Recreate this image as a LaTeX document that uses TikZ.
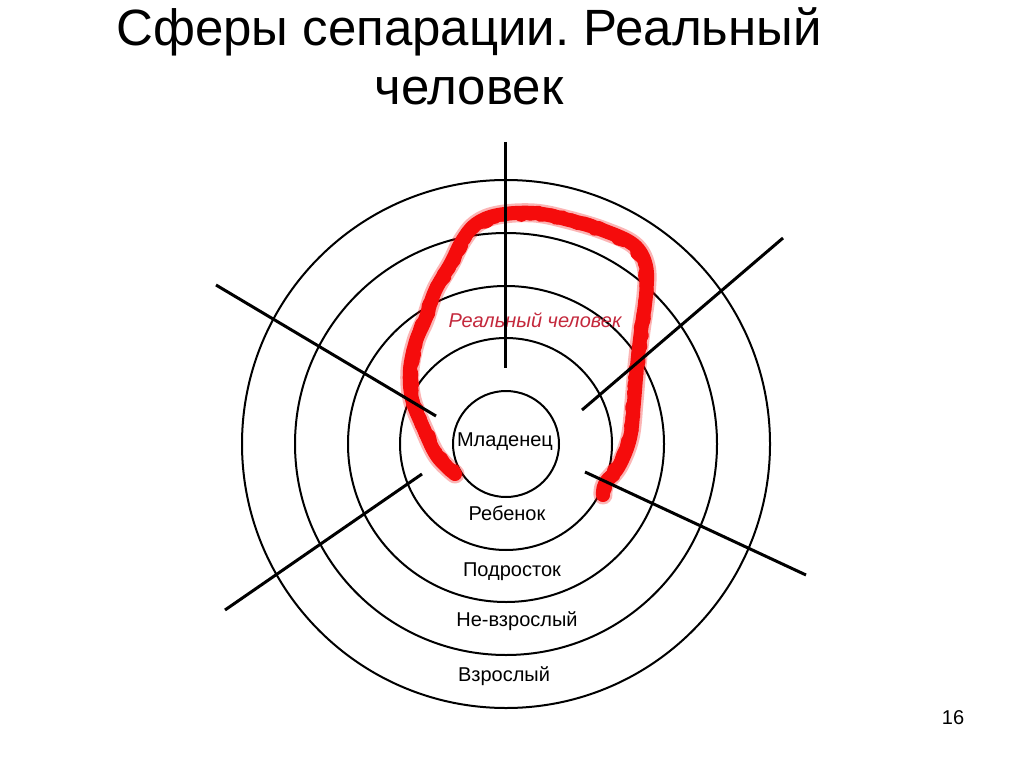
\documentclass[tikz,border=0pt]{standalone}
\usepackage{fontspec}
\setmainfont{Liberation Sans}
\usetikzlibrary{decorations.pathmorphing}
\definecolor{realred}{RGB}{196,40,60}
\definecolor{scrib}{RGB}{245,12,12}
\frenchspacing
\begin{document}
\begin{tikzpicture}[x=1pt,y=-1pt,
  ring/.style={circle,draw=black,line width=2pt,minimum size=#1,inner sep=0pt},
  ray/.style={draw=black,line width=3pt},
  lbl/.style={font=\fontsize{20}{24}\selectfont,text=black,inner sep=0pt},
  ttl/.style={font=\fontsize{51}{58}\selectfont,text=black,inner sep=0pt,anchor=base},
  scribble/.style={draw=scrib,line cap=round,line join=round}]
\useasboundingbox[fill=white] (0,0) rectangle (1024,767);

% title
\node[ttl] (title1) at (469,46) {Сферы сепарации. Реальный};
\node[ttl] (title2) at (469,105) {человек};

% rings
\coordinate (ctr) at (506,444);
\node[ring=528pt] (c5) at (ctr) {};
\node[ring=422pt] (c4) at (ctr) {};
\node[ring=316pt] (c3) at (ctr) {};
\node[ring=212pt] (c2) at (ctr) {};
\node[ring=106pt] (c1) at (ctr) {};

% red scribble
\draw[scribble,line width=19pt,draw opacity=0.3]
  plot[smooth,tension=0.6] coordinates {(455,474) (437,456) (423,427) (412,399) (410,370) (416,341) (425,320) (435,291) (451,263) (462,241) (476,224) (498,215) (534,213) (569,220) (605,231) (634,245) (646,266) (646,295) (641,331) (637,366) (634,402) (630,438) (619,466) (605,484) (603,495)};
\draw[scribble,line width=13pt,decorate,decoration={random steps,segment length=4pt,amplitude=1.8pt}]
  (455,474) -- (437,456) -- (423,427) -- (412,399) -- (410,370) -- (416,341) -- (425,320) -- (435,291) -- (451,263) -- (462,241) -- (476,224) -- (498,215) -- (534,213) -- (569,220) -- (605,231) -- (634,245) -- (646,266) -- (646,295) -- (641,331) -- (637,366) -- (634,402) -- (630,438) -- (619,466) -- (605,484) -- (603,495);
\draw[scribble,line width=14pt]
  plot[smooth,tension=0.6] coordinates {(455,474) (437,456) (423,427) (412,399) (410,370) (416,341) (425,320) (435,291) (451,263) (462,241) (476,224) (498,215) (534,213) (569,220) (605,231) (634,245) (646,266) (646,295) (641,331) (637,366) (634,402) (630,438) (619,466) (605,484) (603,495)};

% labels
\node[lbl] (l1) at (505,442) {Младенец};
\node[lbl] (l2) at (507,513) {Ребенок};
\node[lbl] (l3) at (512,572) {Подросток};
\node[lbl] (l4) at (517,621) {Не-взрослый};
\node[lbl] (l5) at (504,676) {Взрослый};
\node[lbl,text=realred,font=\fontsize{20}{24}\selectfont\itshape] (real) at (535,320) {Реальный человек};

% rays
\coordinate (v1) at (505,142); \coordinate (v2) at (505,368);
\coordinate (ul1) at (216,285); \coordinate (ul2) at (436,416);
\coordinate (ur1) at (783,238); \coordinate (ur2) at (582,410);
\coordinate (ll1) at (225,610); \coordinate (ll2) at (422,474);
\coordinate (lr1) at (806,575); \coordinate (lr2) at (585,472);
\draw[ray] (v1) -- (v2);
\draw[ray] (ul1) -- (ul2);
\draw[ray] (ur1) -- (ur2);
\draw[ray] (ll1) -- (ll2);
\draw[ray] (lr1) -- (lr2);

% page number
\node[lbl] (pg) at (953,718) {16};
\end{tikzpicture}
\end{document}
